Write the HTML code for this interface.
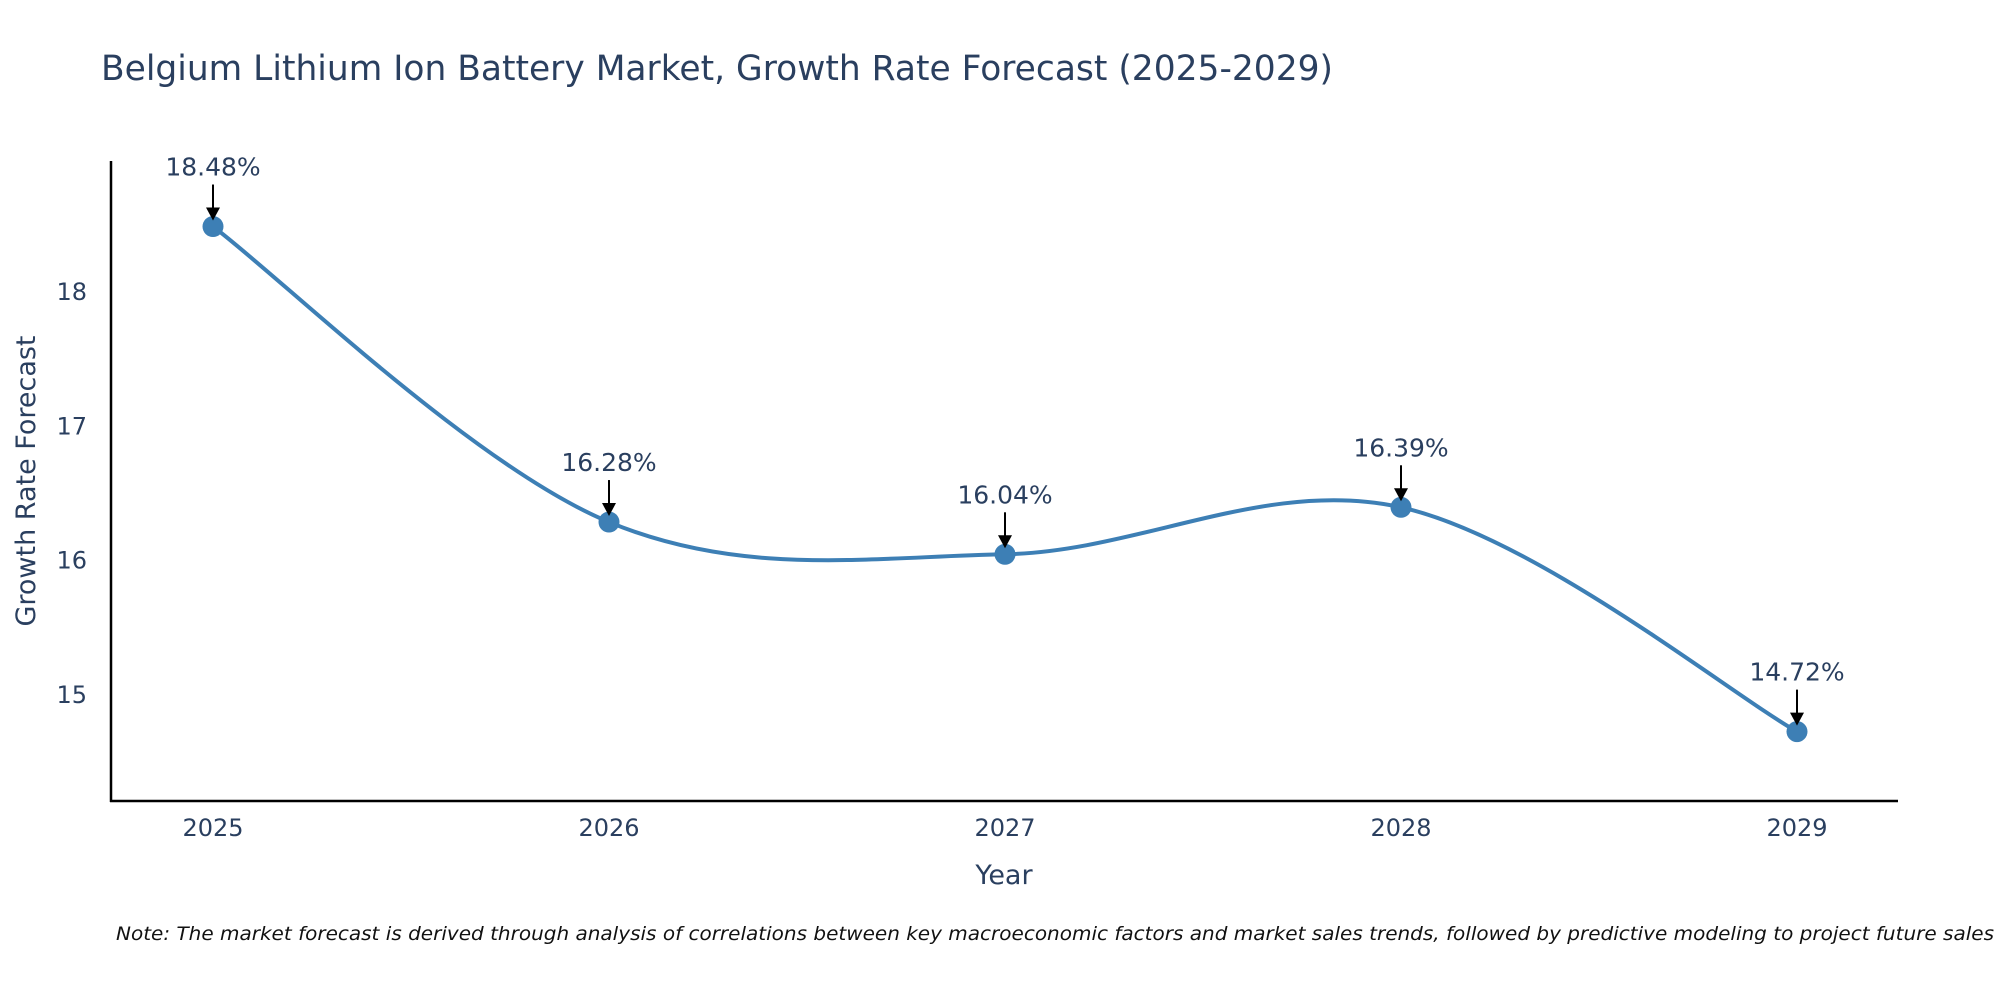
<!DOCTYPE html>
<html><head><meta charset="utf-8"><style>
html,body{margin:0;padding:0;background:#fff;}
svg{display:block;font-family:"DejaVu Sans","Liberation Sans",sans-serif;}
</style></head><body>
<svg id="chart" width="2000" height="1000" viewBox="0 0 2000 1000">
<text x="101" y="80" font-size="34.5" fill="#2a3f5f" textLength="1232" lengthAdjust="spacingAndGlyphs">Belgium Lithium Ion Battery Market, Growth Rate Forecast (2025-2029)</text>
<g id="grid"></g>
<line x1="111" y1="161" x2="111" y2="802" stroke="#000" stroke-width="2.5"/>
<line x1="110" y1="801" x2="1898" y2="801" stroke="#000" stroke-width="2.5"/>
<g id="xticks"></g><g id="yticks"></g>
<path id="line" fill="none" stroke="#3d7fb5" stroke-width="4"/>
<g id="marks"></g>
<text x="1004" y="884" font-size="27" fill="#2a3f5f" text-anchor="middle">Year</text>
<text transform="translate(35,481) rotate(-90)" font-size="27" fill="#2a3f5f" text-anchor="middle">Growth Rate Forecast</text>
<text x="116" y="940" font-size="19" font-style="italic" fill="#111" textLength="1878" lengthAdjust="spacingAndGlyphs">Note: The market forecast is derived through analysis of correlations between key macroeconomic factors and market sales trends, followed by predictive modeling to project future sales</text>
</svg>
<script>
const years = [2025, 2026, 2027, 2028, 2029];
const rates = [18.48, 16.28, 16.04, 16.39, 14.72];
const labels = ["18.48%", "16.28%", "16.04%", "16.39%", "14.72%"];
const yTicks = [15, 16, 17, 18];

const NS = "http://www.w3.org/2000/svg";
const xS = v => 213 + (v - 2025) * (1797 - 213) / 4;
const yS = v => 694 - (v - 15) * (694 - 291) / 3;
function mk(tag, attrs, parent) {
  const e = document.createElementNS(NS, tag);
  for (const k in attrs) e.setAttribute(k, attrs[k]);
  document.getElementById(parent).appendChild(e);
  return e;
}
yTicks.forEach(t => {
  const e = mk("text", {x: 87, y: yS(t) + 9, "font-size": 24, fill: "#2a3f5f", "text-anchor": "end"}, "yticks");
  e.textContent = t;
  
  
});
years.forEach(y => {
  const e = mk("text", {x: xS(y), y: 836, "font-size": 24, fill: "#2a3f5f", "text-anchor": "middle"}, "xticks");
  e.textContent = y;
  
  
});
const pts = years.map((y, i) => [xS(y), yS(rates[i])]);
let d = "M" + pts[0][0] + "," + pts[0][1];
const tn = 0.17;
for (let i = 0; i < pts.length - 1; i++) {
  const p0 = pts[Math.max(0, i - 1)], p1 = pts[i], p2 = pts[i + 1], p3 = pts[Math.min(pts.length - 1, i + 2)];
  const c1 = [p1[0] + (p2[0] - p0[0]) * tn, p1[1] + (p2[1] - p0[1]) * tn];
  const c2 = [p2[0] - (p3[0] - p1[0]) * tn, p2[1] - (p3[1] - p1[1]) * tn];
  d += ` C${c1[0]},${c1[1]} ${c2[0]},${c2[1]} ${p2[0]},${p2[1]}`;
}
document.getElementById("line").setAttribute("d", d);
pts.forEach((p, i) => {
  const c = mk("circle", {cx: p[0], cy: p[1], r: 10.5, fill: "#3d7fb5"}, "marks");
  
  
  const l = mk("line", {x1: p[0], y1: p[1] - 42, x2: p[0], y2: p[1] - 18, stroke: "#000", "stroke-width": 2}, "marks");
  
  
  const a = mk("polygon", {points: `${p[0]-7},${p[1]-19} ${p[0]+7},${p[1]-19} ${p[0]},${p[1]-6}`, fill: "#000"}, "marks");
  
  
  const t = mk("text", {x: p[0], y: p[1] - 51, "font-size": 25, fill: "#2a3f5f", "text-anchor": "middle"}, "marks");
  t.textContent = labels[i];
  
  
});
</script>
</body></html>
